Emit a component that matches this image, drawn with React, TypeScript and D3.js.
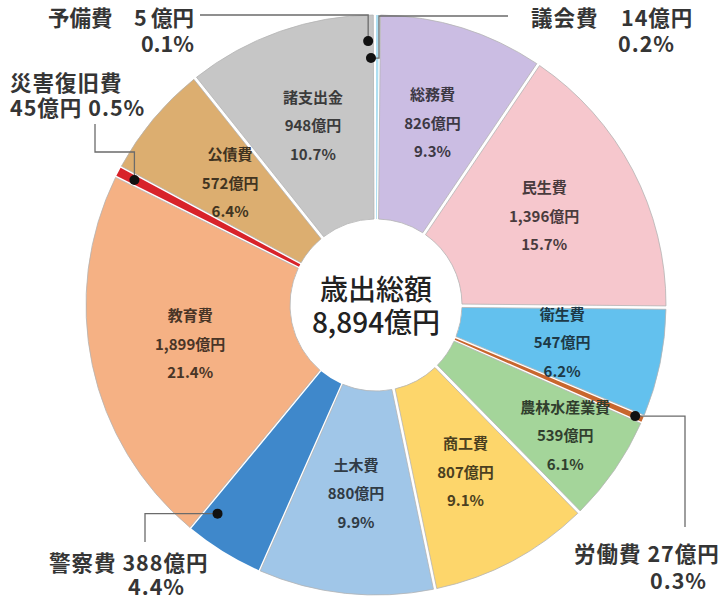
import React from 'react';
import * as d3 from 'd3';

const categories = ['議会費', '総務費', '民生費', '衛生費', '労働費', '農林水産業費', '商工費', '土木費', '警察費', '教育費', '災害復旧費', '公債費', '諸支出金', '予備費'];
const amounts = [14, 826, 1396, 547, 27, 539, 807, 880, 388, 1899, 45, 572, 948, 5];
const percents = [0.2, 9.3, 15.7, 6.2, 0.3, 6.1, 9.1, 9.9, 4.4, 21.4, 0.5, 6.4, 10.7, 0.1];
const colors = ['#aedff2', '#cbbde3', '#f6c7cd', '#63c1ee', '#c8662e', '#a4d59a', '#fdd66b', '#a0c6e8', '#3f88cb', '#f5b184', '#d8232a', '#dcae70', '#c6c6c6', '#ffffff'];
const totalTitle = '歳出総額';
const totalValue = 8894;

// label radius overrides (layout)
const labelRadius: Record<string, number> = { '農林水産業費': 230 };

type Pt = [number, number];
interface Callout {
  name: string;
  angleOffset: number; // degrees from slice middle
  radius: number;
  path: (p: Pt) => Pt[];
  lines: { x: number; y: number; anchor: 'start' | 'end' | 'middle'; text: (d: any) => string }[];
}

const fmt = d3.format(',');

const callouts: Callout[] = [
  {
    name: '予備費', angleOffset: -1.6, radius: 264,
    path: (p) => [[200, 15], [p[0], 15], p],
    lines: [
      { x: 194, y: 26, anchor: 'end', text: (d) => `${d.name}　${fmt(d.value)}\u2009億円` },
      { x: 194, y: 52, anchor: 'end', text: (d) => `${d.pct}%` },
    ],
  },
  {
    name: '議会費', angleOffset: -1.45, radius: 247,
    path: (p) => [[508, 16], [379, 16], [379, p[1]], p],
    lines: [
      { x: 531, y: 26, anchor: 'start', text: (d) => `${d.name}　${fmt(d.value)}億円` },
      { x: 618, y: 52, anchor: 'start', text: (d) => `${d.pct}%` },
    ],
  },
  {
    name: '災害復旧費', angleOffset: 0, radius: 272,
    path: (p) => [[95, 124], [95, 152], [p[0], 152], p],
    lines: [
      { x: 10, y: 91, anchor: 'start', text: (d) => d.name },
      { x: 10, y: 116, anchor: 'start', text: (d) => `${fmt(d.value)}億円 ${d.pct}%` },
    ],
  },
  {
    name: '労働費', angleOffset: 0, radius: 282,
    path: (p) => [p, [685, p[1]], [685, 527]],
    lines: [
      { x: 574, y: 562, anchor: 'start', text: (d) => `${d.name} ${fmt(d.value)}億円` },
      { x: 650, y: 589, anchor: 'start', text: (d) => `${d.pct}%` },
    ],
  },
  {
    name: '警察費', angleOffset: 5.5, radius: 262,
    path: (p) => [p, [145, p[1]], [145, 542]],
    lines: [
      { x: 49, y: 571, anchor: 'start', text: (d) => `${d.name} ${fmt(d.value)}億円` },
      { x: 128, y: 595, anchor: 'start', text: (d) => `${d.pct}%` },
    ],
  },
];

const FONT = "'Noto Sans CJK JP', 'Noto Sans', sans-serif";

export default function App() {
  const W = 721, H = 601, cx = 376, cy = 305, R = 290, r0 = 86;
  const data = categories.map((c, i) => ({ name: c, value: amounts[i], pct: percents[i], color: colors[i] }));
  const calloutNames = new Set(callouts.map((c) => c.name));
  const pie = d3.pie<any>().value((d: any) => d.value).sort(null).startAngle(0).endAngle(2 * Math.PI);
  const arcs = pie(data);
  const padW = 3.4, padR = 300;
  const arcGen = d3.arc<any>()
    .innerRadius(r0)
    .outerRadius(R)
    .padRadius(padR)
    .padAngle((d: any) => (calloutNames.has(d.data.name) ? 0 : padW / padR));

  const line = d3.line();

  return (
    <svg width={W} height={H} style={{ position: 'absolute', left: 0, top: 0, background: '#fff' }} fontFamily={FONT}>
      <g transform={`translate(${cx},${cy})`}>
        {arcs.map((a, i) => (
          <path
            key={i}
            d={arcGen(a) || ''}
            fill={a.data.color}
            stroke={calloutNames.has(a.data.name) ? 'none' : '#b4b4b4'}
            strokeWidth={0.8}
          />
        ))}
        {arcs.filter((a) => !calloutNames.has(a.data.name)).map((a, i) => {
          const mid = (a.startAngle + a.endAngle) / 2;
          const rr = labelRadius[a.data.name] ?? 190;
          const [x, y] = d3.pointRadial(mid, rr);
          const tc = d3.color(a.data.color)!.darker(3.4).formatHex();
          return (
            <g key={i} transform={`translate(${x},${y})`} fill={tc} fontSize={15} fontWeight="bold" textAnchor="middle">
              <text y={-28.5} dy="0.35em">{a.data.name}</text>
              <text y={0} dy="0.35em">{fmt(a.data.value)}億円</text>
              <text y={28.5} dy="0.35em">{a.data.pct}%</text>
            </g>
          );
        })}
        <circle r={r0 - 1} fill="#fff" />
        <text y={-5} textAnchor="middle" fontSize={28} fontWeight={500} fill="#222">{totalTitle}</text>
        <text y={28} textAnchor="middle" fontSize={28} fontWeight={500} fill="#222">{fmt(totalValue)}億円</text>
      </g>
      {callouts.map((c, k) => {
        const a = arcs.find((x) => x.data.name === c.name)!;
        const mid = (a.startAngle + a.endAngle) / 2 + (c.angleOffset * Math.PI) / 180;
        const p0 = d3.pointRadial(mid, c.radius);
        const p: Pt = [cx + p0[0], cy + p0[1]];
        return (
          <g key={k}>
            <path d={line(c.path(p)) || ''} fill="none" stroke="#6b6b6b" strokeWidth={1.3} />
            <circle cx={p[0]} cy={p[1]} r={5} fill="#111" />
            {c.lines.map((l, j) => (
              <text key={j} x={l.x} y={l.y} textAnchor={l.anchor} fontSize={21.5} letterSpacing={l.anchor === 'end' ? 0 : 1} fontWeight="bold" fill="#353535">
                {l.text(a.data)}
              </text>
            ))}
          </g>
        );
      })}
    </svg>
  );
}
